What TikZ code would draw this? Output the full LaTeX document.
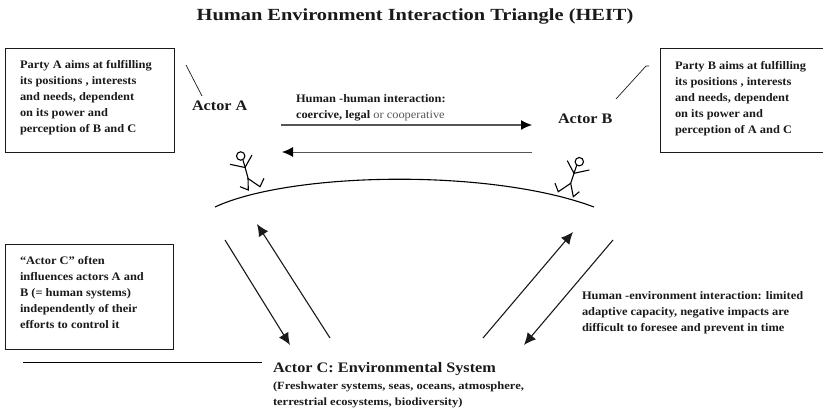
\documentclass[tikz,border=0pt]{standalone}
\usepackage{fontspec}
\setmainfont{Liberation Serif}
\newfontfamily\notefont[FakeStretch=1.08]{Liberation Serif}
\newfontfamily\titlefont[FakeStretch=1.2]{Liberation Serif}
\newfontfamily\actorfont[FakeStretch=1.12]{Liberation Serif}
\newfontfamily\detailfont[FakeStretch=1.14]{Liberation Serif}
\usetikzlibrary{arrows.meta}
\definecolor{ink}{HTML}{1A1A1A}
\definecolor{softgray}{HTML}{555555}
\tikzset{
  x=1pt,y=-1pt,
  every node/.style={inner sep=0pt,outer sep=0pt,text=ink},
  note/.style={font=\notefont\fontsize{11.5}{16}\selectfont\bfseries,align=left,anchor=north west},
  actor/.style={font=\actorfont\fontsize{14.5}{16}\selectfont\bfseries,anchor=west},
  infobox/.style={draw=ink,line width=0.7pt,anchor=north west},
  pointer/.style={draw=ink,line width=0.7pt},
  flow/.style={draw=ink,line width=1.1pt,-{Latex[length=12pt,width=11pt]}},
  stick/.style={draw=black,line width=1.1pt},
}
\begin{document}
\begin{tikzpicture}
\useasboundingbox (0,0) rectangle (823,412);
\node[font=\titlefont\fontsize{17}{18}\selectfont\bfseries,anchor=center] (title) at (415,16) {Human Environment Interaction Triangle (HEIT)};

\node[infobox,minimum width=169pt,minimum height=104pt] (boxA) at (5.5,48.5) {};
\node[note] (textA) at (20,60.5) {Party A aims at fulfilling\\its positions , interests\\and needs, dependent\\on its power and\\perception of B and C};
\node[infobox,minimum width=163pt,minimum height=104pt] (boxB) at (660.5,48.5) {};
\node[note] (textB) at (675,61) {Party B aims at fulfilling\\its positions , interests\\and needs, dependent\\on its power and\\perception of A and C};
\node[infobox,minimum width=168pt,minimum height=105pt] (boxC) at (5.5,244.5) {};
\node[note] (textC) at (20,256.5) {“Actor C” often\\influences actors A and\\B (= human systems)\\independently of their\\efforts to control it};

\node[actor] (actorA) at (192,106) {Actor A};
\node[actor] (actorB) at (558,118.5) {Actor B};
\node[actor] (actorC) at (273,369) {Actor C: Environmental System};
\node[note,font=\detailfont\fontsize{11}{16.5}\selectfont\bfseries] (detailC) at (273,381.5) {(Freshwater systems, seas, oceans, atmosphere,\\terrestrial ecosystems, biodiversity)};

\node[note,font=\notefont\fontsize{11.5}{15.5}\selectfont\bfseries] (hh) at (296,95) {Human -human interaction:\\coercive, legal {\mdseries\color{softgray}or cooperative}};
\node[note] (he) at (582,291.5) {Human -environment interaction: limited\\adaptive capacity, negative impacts are\\difficult to foresee and prevent in time};

\coordinate (pA1) at (186,65); \coordinate (pA2) at (202,96);
\draw[pointer] (pA1) -- (pA2);
\coordinate (pB0) at (649,66); \coordinate (pB1) at (646,66); \coordinate (pB2) at (616,99);
\draw[pointer] (pB0) -- (pB1) -- (pB2);

\coordinate (h1s) at (281,125); \coordinate (h1e) at (532,125);
\draw[flow,draw=softgray,-{Latex[length=11pt,width=10pt,color=black]}] (h1s) -- (h1e);
\coordinate (h2s) at (532,152); \coordinate (h2e) at (282,152);
\draw[flow,draw=softgray,line width=0.9pt,-{Latex[length=11pt,width=10pt,color=black]}] (h2s) -- (h2e);

\coordinate (arcL) at (215,207); \coordinate (arcR) at (594,207);
\draw[draw=black,line width=1.1pt] (arcL) .. controls (290,172) and (490,168) .. (arcR);

\coordinate (l1s) at (225,240); \coordinate (l1e) at (290,345);
\coordinate (l2s) at (330,338); \coordinate (l2e) at (257,224);
\coordinate (r1s) at (483,338); \coordinate (r1e) at (573,232);
\coordinate (r2s) at (613,240); \coordinate (r2e) at (524,345);
\draw[flow] (l1s) -- (l1e);
\draw[flow] (l2s) -- (l2e);
\draw[flow] (r1s) -- (r1e);
\draw[flow] (r2s) -- (r2e);

\coordinate (ruleL) at (23,362); \coordinate (ruleR) at (262,362);
\draw[draw=black,line width=1pt] (ruleL) -- (ruleR);

% stick figure A
\draw[stick] (240.7,156) circle (4.2);
\draw[stick] (242.8,159.5) -- (245,167) -- (248,178) -- (248.3,190) -- (240,186.7);
\draw[stick] (230,164.3) -- (245,167.5) -- (252,155);
\draw[stick] (247.7,178.3) -- (260,186.7) -- (264,178.3);
% stick figure B
\draw[stick] (579.3,161.7) circle (4.2);
\draw[stick] (576.8,165) -- (574,173.3) -- (570.7,183.3) -- (558.3,191.7) -- (555,183.3);
\draw[stick] (589.3,170) -- (574,173.3) -- (567.3,160.7);
\draw[stick] (570.7,183.3) -- (573.3,196.7) -- (579.3,191.7);
\end{tikzpicture}
\end{document}
